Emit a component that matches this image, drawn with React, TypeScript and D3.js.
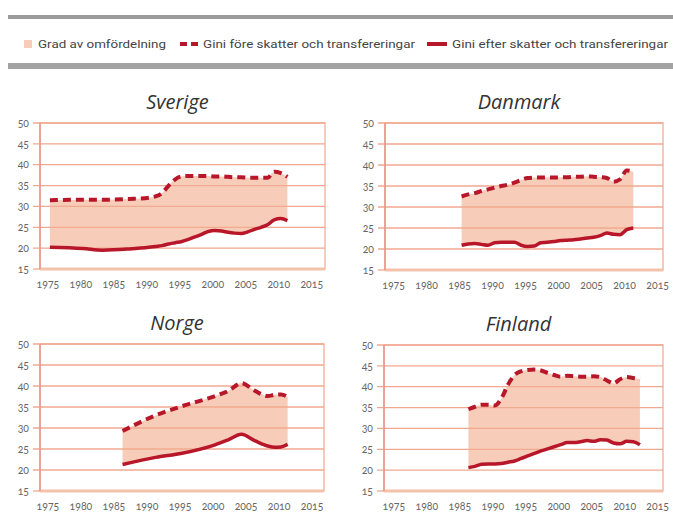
import * as d3 from "d3";

const xTicks = [1975, 1980, 1985, 1990, 1995, 2000, 2005, 2010, 2015];
const yTicks = [15, 20, 25, 30, 35, 40, 45, 50];

const sverigeYears = [1975, 1980, 1983, 1987, 1990, 1991, 1992, 1993, 1994, 1995, 1996, 1997, 1998, 1999, 2000, 2001, 2002, 2003, 2004, 2005, 2006, 2007, 2008, 2009, 2010, 2011];
const sverigeFore = [31.5, 31.6, 31.6, 31.8, 32.1, 32.4, 33.2, 35.0, 36.5, 37.2, 37.3, 37.3, 37.3, 37.3, 37.2, 37.2, 37.1, 37.0, 37.0, 36.9, 36.9, 36.9, 36.9, 38.3, 38.0, 37.1];
const sverigeEfter = [20.2, 19.9, 19.5, 19.8, 20.2, 20.4, 20.6, 21.0, 21.3, 21.6, 22.1, 22.7, 23.3, 24.0, 24.2, 24.1, 23.8, 23.6, 23.5, 23.9, 24.5, 25.0, 25.6, 26.8, 27.1, 26.6];

const danmarkYears = [1985, 1986, 1987, 1988, 1989, 1990, 1991, 1992, 1993, 1994, 1995, 1996, 1997, 1998, 1999, 2000, 2001, 2002, 2003, 2004, 2005, 2006, 2007, 2008, 2009, 2010, 2011];
const danmarkFore = [32.5, 33.0, 33.3, 33.8, 34.2, 34.6, 35.0, 35.3, 35.8, 36.4, 36.9, 37.0, 37.0, 37.0, 37.0, 37.1, 37.1, 37.2, 37.2, 37.3, 37.2, 37.1, 36.9, 36.0, 36.6, 38.7, 38.4];
const danmarkEfter = [20.9, 21.2, 21.3, 21.1, 20.9, 21.5, 21.6, 21.6, 21.6, 20.9, 20.6, 20.7, 21.5, 21.6, 21.8, 22.0, 22.1, 22.2, 22.4, 22.6, 22.8, 23.2, 23.8, 23.5, 23.4, 24.6, 25.0];

const norgeYears = [1986, 1991, 1995, 2000, 2002, 2004, 2006, 2008, 2009, 2010, 2011];
const norgeFore = [29.3, 33.0, 35.2, 37.6, 38.8, 40.7, 38.9, 37.6, 37.9, 38.0, 37.4];
const norgeEfter = [21.3, 23.0, 24.0, 26.0, 27.2, 28.5, 27.0, 25.7, 25.4, 25.5, 26.1];

const finlandYears = [1986, 1987, 1988, 1989, 1990, 1991, 1992, 1993, 1994, 1995, 1996, 1997, 1998, 1999, 2000, 2001, 2002, 2003, 2004, 2005, 2006, 2007, 2008, 2009, 2010, 2011, 2012];
const finlandFore = [34.6, 35.2, 35.7, 35.7, 35.5, 37.2, 40.5, 42.8, 43.7, 44.0, 44.1, 43.9, 43.3, 42.8, 42.4, 42.6, 42.5, 42.4, 42.4, 42.5, 42.3, 41.5, 40.8, 41.8, 42.3, 42.1, 41.8];
const finlandEfter = [20.6, 20.9, 21.4, 21.5, 21.5, 21.6, 21.9, 22.2, 22.8, 23.4, 24.0, 24.6, 25.1, 25.6, 26.1, 26.6, 26.6, 26.8, 27.1, 26.9, 27.3, 27.2, 26.5, 26.3, 26.9, 26.8, 26.1];

const legendLabels = ["Grad av omfördelning", "Gini före skatter och transfereringar", "Gini efter skatter och transfereringar"];

const RED = "#b8172a";
const FILL = "#f2ad8e";
const GRID = "#f2a890";
const FRAME = "#f1b9a6";
const LABEL = "#666";
const NUM_FONT = "Lato, 'Open Sans', sans-serif";

interface PanelProps {
  title: string;
  years: number[];
  fore: number[];
  efter: number[];
  left: number;
  top: number;
  width: number;
  height: number;
  xDomain: [number, number];
}

const Panel = ({ title, years, fore, efter, left, top, width, height, xDomain }: PanelProps) => {
  const x = d3.scaleLinear().domain(xDomain).range([left, left + width]);
  const y = d3.scaleLinear().domain([15, 50]).range([top + height, top]);
  const idx = years.map((_, i) => i);

  const area = d3
    .area<number>()
    .x((i) => x(years[i]))
    .y0((i) => y(efter[i]))
    .y1((i) => y(fore[i]))
    .curve(d3.curveMonotoneX);
  const line = (vals: number[]) =>
    d3
      .line<number>()
      .x((i) => x(years[i]))
      .y((i) => y(vals[i]))
      .curve(d3.curveMonotoneX)(idx) as string;

  return (
    <g>
      <text
        x={left + width / 2 - 5}
        y={top - 14}
        textAnchor="middle"
        fontFamily="'Open Sans', sans-serif"
        fontStyle="italic"
        fontSize={20}
        fill="#333"
      >
        {title}
      </text>
      {/* frame */}
      <rect x={left} y={top} width={width} height={height} fill="none" stroke={FRAME} strokeWidth={1.5} />
      {yTicks.slice(1).map((t) => (
        <line key={t} x1={left - 7} x2={left + width} y1={y(t)} y2={y(t)} stroke={GRID} strokeWidth={1.3} />
      ))}
      <line x1={left - 7} x2={left} y1={y(15)} y2={y(15)} stroke={GRID} strokeWidth={1.3} />
      <path d={area(idx) as string} fill={FILL} fillOpacity={0.62} />
      <line x1={left} x2={left + width} y1={y(15)} y2={y(15)} stroke="#f4c2aa" strokeWidth={3} />
      <line x1={left} x2={left} y1={top} y2={top + height} stroke="#e9968a" strokeWidth={1.5} />
      <path d={line(fore)} fill="none" stroke={RED} strokeWidth={4} strokeDasharray="8 5" />
      <path d={line(efter)} fill="none" stroke={RED} strokeWidth={3.5} strokeLinejoin="round" />
      {yTicks.map((t) => (
        <text
          key={t}
          x={left - 11}
          y={y(t)}
          dy="0.35em"
          textAnchor="end"
          fontFamily={NUM_FONT}
          fontSize={10.5}
          fill={LABEL}
          style={{ fontVariantNumeric: "oldstyle-nums" }}
        >
          {t}
        </text>
      ))}
      {xTicks.map((t) => (
        <text
          key={t}
          x={x(t) - 2}
          y={top + height + 19}
          textAnchor="middle"
          fontFamily={NUM_FONT}
          fontSize={10.5}
          fill={LABEL}
          style={{ fontVariantNumeric: "oldstyle-nums" }}
        >
          {t}
        </text>
      ))}
    </g>
  );
};

const Legend = () => {
  const font = "'Liberation Sans Narrow', 'Roboto', sans-serif";
  const ty = 48;
  return (
    <g>
      <rect x={8} y={15} width={665} height={4} fill="#9b9b9b" />
      <rect x={8} y={63} width={665} height={6} fill="#a3a3a3" />
      <rect x={24} y={40} width={8} height={8} fill={FILL} fillOpacity={0.62} />
      <text x={38} y={ty} fontFamily={font} fontSize={11.5} fill="#444" textLength={128} lengthAdjust="spacingAndGlyphs">
        {legendLabels[0]}
      </text>
      <line x1={180} x2={198} y1={44} y2={44} stroke={RED} strokeWidth={4} strokeDasharray="7 4" />
      <text x={203} y={ty} fontFamily={font} fontSize={11.5} fill="#444" textLength={212} lengthAdjust="spacingAndGlyphs">
        {legendLabels[1]}
      </text>
      <line x1={427} x2={447} y1={44} y2={44} stroke={RED} strokeWidth={4} />
      <text x={452} y={ty} fontFamily={font} fontSize={11.5} fill="#444" textLength={216} lengthAdjust="spacingAndGlyphs">
        {legendLabels[2]}
      </text>
    </g>
  );
};

export default function App() {
  return (
    <svg width={673} height={515} style={{ position: "absolute", left: 0, top: 0, background: "#fff" }}>
      <Legend />
      <Panel title="Sverige" years={sverigeYears} fore={sverigeFore} efter={sverigeEfter} left={40} top={123} width={285} height={146} xDomain={[1973.5, 2016.7]} />
      <Panel title="Danmark" years={danmarkYears} fore={danmarkFore} efter={danmarkEfter} left={385} top={123} width={278} height={147} xDomain={[1973.4, 2015.5]} />
      <Panel title="Norge" years={norgeYears} fore={norgeFore} efter={norgeEfter} left={40} top={344} width={284} height={147} xDomain={[1973.5, 2016.5]} />
      <Panel title="Finland" years={finlandYears} fore={finlandFore} efter={finlandEfter} left={384} top={345} width={279} height={146} xDomain={[1973.2, 2015.5]} />
    </svg>
  );
}
